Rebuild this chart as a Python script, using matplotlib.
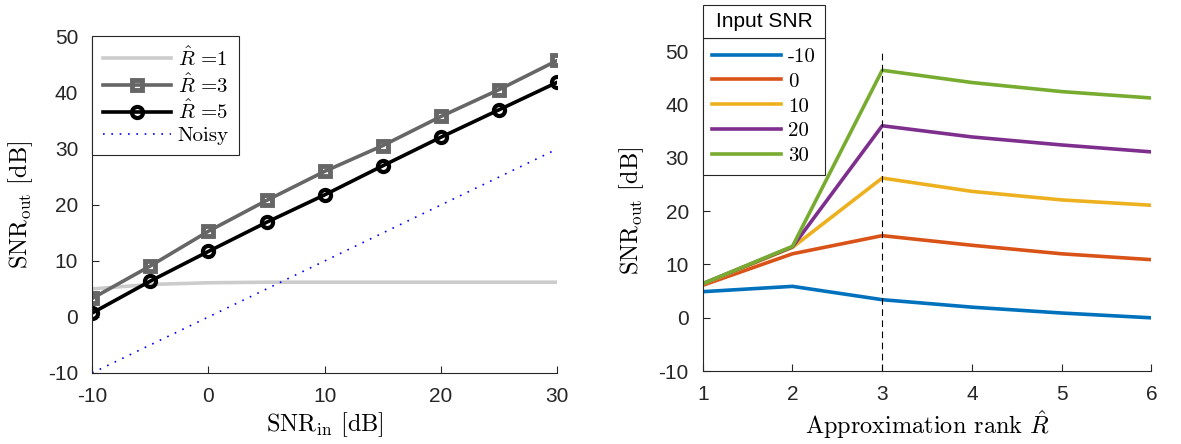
import matplotlib
matplotlib.use("Agg")
import matplotlib.pyplot as plt
from matplotlib.patches import Rectangle

plt.rcParams["mathtext.fontset"] = "cm"
plt.rcParams["axes.unicode_minus"] = False
plt.rcParams["font.family"] = ["Liberation Sans", "DejaVu Sans"]

# Left panel: output SNR vs input SNR
snr_in = [-10, -5, 0, 5, 10, 15, 20, 25, 30]
r1 = [5.0, 5.8, 6.1, 6.2, 6.2, 6.2, 6.2, 6.2, 6.2]
r3 = [3.3, 9.1, 15.3, 20.8, 26.0, 30.6, 35.8, 40.6, 45.8]
r5 = [0.7, 6.4, 11.7, 16.9, 21.8, 27.0, 32.1, 37.0, 41.9]
noisy = [-10, 30]
noisy_x = [-10, 30]

# Right panel: output SNR vs approximation rank
rank = [1, 2, 3, 4, 5, 6]
input_snr = ["-10", "0", "10", "20", "30"]
out_m10 = [4.9, 5.9, 3.4, 2.0, 0.9, 0.0]
out_0 = [6.1, 12.0, 15.4, 13.6, 12.0, 10.9]
out_10 = [6.3, 13.2, 26.2, 23.7, 22.1, 21.1]
out_20 = [6.4, 13.3, 36.0, 33.9, 32.4, 31.1]
out_30 = [6.4, 13.4, 46.4, 44.1, 42.4, 41.2]
rank_marker = 3

colors = ["#0072BD", "#D95319", "#EDB120", "#7E2F8E", "#77AC30"]
axcol = "#262626"
serif = {"family": "cmr10", "size": 17.5}
legfont = {"family": "cmr10", "size": 15}

fig = plt.figure(figsize=(11.81, 4.44), dpi=100)
ax1 = fig.add_axes([0.078, 0.160, 0.394, 0.757])
ax2 = fig.add_axes([0.595, 0.164, 0.380, 0.721])


def style(ax):
    for s in ("top", "right"):
        ax.spines[s].set_visible(False)
    for s in ("left", "bottom"):
        ax.spines[s].set_color(axcol)
        ax.spines[s].set_linewidth(0.8)
    ax.tick_params(direction="in", length=5, width=0.8, colors=axcol,
                   labelsize=15, pad=10)
    for t in ax.get_xticklabels() + ax.get_yticklabels():
        t.set_color(axcol)


ax1.plot(snr_in, r1, color="#cccccc", lw=2.6, label=r"$\hat{R}$ =1")
ax1.plot(snr_in, r3, color="#666666", lw=2.6, marker="s", ms=6.5,
         mfc="none", mew=3.5, label=r"$\hat{R}$ =3")
ax1.plot(snr_in, r5, color="black", lw=2.6, marker="o", ms=8,
         mfc="none", mew=3.0, label=r"$\hat{R}$ =5")
ax1.plot(noisy_x, noisy, color="blue", ls=(0, (1, 4)), lw=1.2,
         label="Noisy")
ax1.set_xlim(-10, 30)
ax1.set_ylim(-10, 50)
ax1.set_xticks([-10, 0, 10, 20, 30])
ax1.set_yticks(range(-10, 51, 10))
ax1.set_xlabel(r"SNR$_\mathrm{in}$ [dB]", fontdict=serif, labelpad=3)
ax1.set_ylabel(r"SNR$_\mathrm{out}$ [dB]", fontdict=serif, labelpad=9)
leg1 = ax1.legend(loc="upper left", bbox_to_anchor=(0, 1.004),
                  borderaxespad=0, fancybox=False, framealpha=1,
                  edgecolor=axcol, prop=legfont,
                  handlelength=3.3, numpoints=1, labelspacing=0.15,
                  handletextpad=0.3, borderpad=0.5)
leg1.get_frame().set_linewidth(0.8)
style(ax1)

for vals, lab, c in zip([out_m10, out_0, out_10, out_20, out_30],
                        input_snr, colors):
    ax2.plot(rank, vals, color=c, lw=2.6, label=lab)
ax2.axvline(rank_marker, color="black", ls=(0, (6, 4)), lw=0.8)
ax2.set_xlim(1, 6)
ax2.set_ylim(-10, 50)
ax2.set_xticks(rank)
ax2.set_yticks(range(-10, 51, 10))
ax2.set_xlabel(r"Approximation rank $\hat{R}$", fontdict=serif,
               labelpad=3)
ax2.set_ylabel(r"SNR$_\mathrm{out}$ [dB]", fontdict=serif, labelpad=9)
leg2 = ax2.legend(loc="upper left", bbox_to_anchor=(0, 1.041),
                  borderaxespad=0, fancybox=False, framealpha=1,
                  edgecolor=axcol, prop=legfont,
                  handlelength=3.3, labelspacing=0.3,
                  handletextpad=0.35, borderpad=0.45)
leg2.get_frame().set_linewidth(0.8)
style(ax2)

# title box sitting on top of the right legend, same width
fig.canvas.draw()
bb = leg2.get_window_extent()
W, H = fig.bbox.width, fig.bbox.height
title_h = 33
fig.add_artist(Rectangle((bb.x0 / W, bb.y1 / H), bb.width / W,
                         title_h / H, transform=fig.transFigure,
                         fc="white", ec=axcol, lw=0.8))
fig.text((bb.x0 + bb.width / 2) / W, (bb.y1 + title_h / 2) / H,
         "Input SNR", ha="center", va="center", fontsize=15)

fig.savefig("out.png", dpi=100)
